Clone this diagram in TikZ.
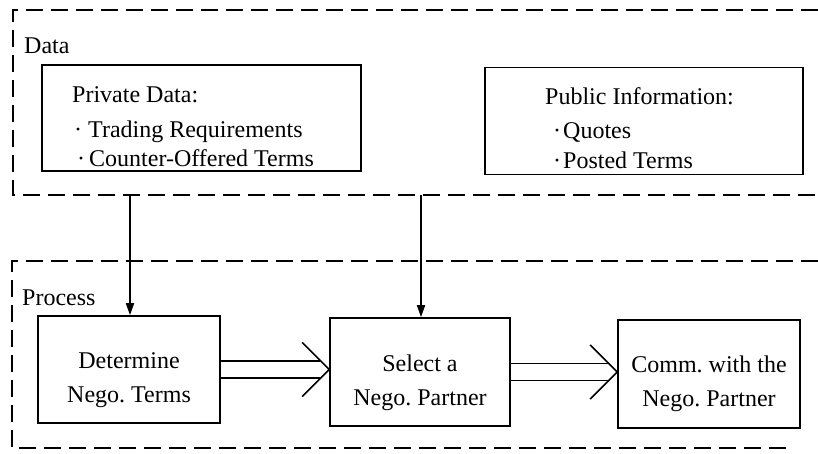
\documentclass[tikz,border=0pt]{standalone}
\usepackage{fontspec}
\setmainfont{Liberation Serif}
\usetikzlibrary{arrows.meta,calc}
\frenchspacing
\begin{document}
\begin{tikzpicture}[x=1pt,y=-1pt,
  box/.style={draw, line width=1.6pt, inner sep=0pt},
  txt/.style={font=\fontsize{24}{34}\selectfont, inner sep=0pt},
  dashbox/.style={line width=2pt, dash pattern=on 17pt off 8pt},
  flow/.style={line width=1.5pt},
  feed/.style={line width=1.6pt, -{Triangle[length=12pt,width=8pt]}}]
\useasboundingbox (0,0) rectangle (818,453);

% dashed areas
\draw[dashbox] (818,10) -- (13,10) -- (13,195) -- (818,195);
\draw[dashbox] (818,261) -- (12,261) -- (12,448) -- (790,448);
\node[txt, anchor=base west] (datalbl) at (24,53) {Data};
\node[txt, anchor=base west] (proclbl) at (22,305) {Process};

% data boxes
\node[box, minimum width=319pt, minimum height=106pt] (priv) at (201.5,118) {};
\node[txt, anchor=base west] (priv1) at (72,102) {Private Data:};
\node[txt, anchor=base west] (priv2) at (74,137) {·\hspace{6pt}Trading Requirements};
\node[txt, anchor=base west] (priv3) at (77,166) {·\hspace{4pt}Counter-Offered Terms};

\node[box, minimum width=318pt, minimum height=107pt] (pub) at (644,121) {};
\node[txt, anchor=base west] (pub1) at (545,104) {Public Information:};
\node[txt, anchor=base west] (pub2) at (553,138) {·\hspace{2pt}Quotes};
\node[txt, anchor=base west] (pub3) at (553,168) {·\hspace{2pt}Posted Terms};

% process boxes
\node[box, minimum width=182pt, minimum height=107pt] (det) at (129,369.5) {};
\node[box, minimum width=180pt, minimum height=108pt] (sel) at (420,372) {};
\node[box, minimum width=182pt, minimum height=108pt] (comm) at (709,374) {};
\node[txt, align=center] (dett) at (129,380) {Determine\\Nego. Terms};
\node[txt, align=center] (selt) at (420,383) {Select a\\Nego. Partner};
\node[txt, align=center] (commt) at (709,384) {Comm. with the\\Nego. Partner};

% feeds from data area
\coordinate (f1) at (130,195);
\coordinate (f2) at (421,195);
\draw[feed] (f1) -- (f1 |- det.north);
\draw[feed] (f2) -- (f2 |- sel.north);

% double arrows
\coordinate (t1) at (sel.west |- det.east);
\draw[flow] ([yshift=8.5pt]det.east) -- ([xshift=-9pt,yshift=8.5pt]t1);
\draw[flow] ([yshift=-8.5pt]det.east) -- ([xshift=-9pt,yshift=-8.5pt]t1);
\draw[flow] ([xshift=-27pt,yshift=27pt]t1) -- (t1) -- ([xshift=-27pt,yshift=-27pt]t1);

\coordinate (t2) at (comm.west |- sel.east);
\draw[flow] ([yshift=8.5pt]sel.east) -- ([xshift=-9pt,yshift=8.5pt]t2);
\draw[flow] ([yshift=-8.5pt]sel.east) -- ([xshift=-9pt,yshift=-8.5pt]t2);
\draw[flow] ([xshift=-27pt,yshift=27pt]t2) -- (t2) -- ([xshift=-27pt,yshift=-27pt]t2);
\end{tikzpicture}
\end{document}
